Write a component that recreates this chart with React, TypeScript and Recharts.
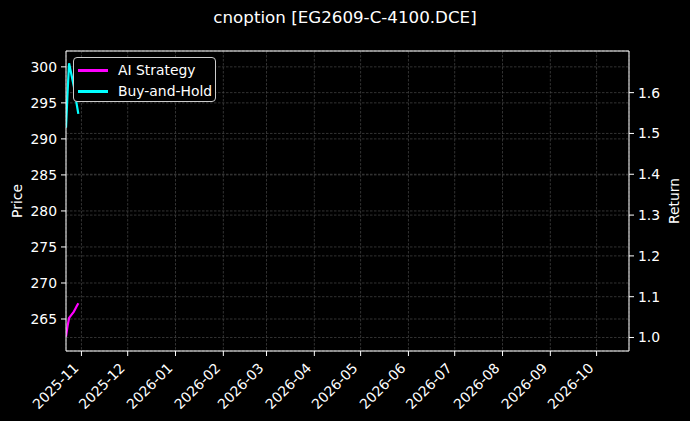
import { LineChart, Line, XAxis, YAxis, CartesianGrid, ReferenceLine } from 'recharts';

const dates = ['2025-10-22', '2025-10-23', '2025-10-24', '2025-10-27', '2025-10-28', '2025-10-29', '2025-10-30'];
const aiStrategy = [1.002, 1.028, 1.048, 1.063, 1.07, 1.077, 1.084];
const buyAndHold = [1.514, 1.6, 1.672, 1.617, 1.594, 1.57, 1.548];

const monthTicks = [
  '2025-11', '2025-12', '2026-01', '2026-02', '2026-03', '2026-04',
  '2026-05', '2026-06', '2026-07', '2026-08', '2026-09', '2026-10',
];
const priceTicks = [265, 270, 275, 280, 285, 290, 295, 300];
const returnTicks = [1.0, 1.1, 1.2, 1.3, 1.4, 1.5, 1.6];

const xStart = '2025-10-22';
const xEnd = '2026-10-22';
const priceDomain = [260.56, 302.2];
const returnDomain = [0.967, 1.702];

const data = dates.map((d, i) => ({
  t: Date.parse(d),
  ai: aiStrategy[i],
  bh: buyAndHold[i],
}));

const FONT = 'DejaVu Sans, sans-serif';
const AI_COLOR = '#ff00ff';
const BH_COLOR = '#00ffff';
const GRID = '#474747';

function XTick({ x, y, payload }: any) {
  const d = new Date(payload.value);
  const label = `${d.getUTCFullYear()}-${String(d.getUTCMonth() + 1).padStart(2, '0')}`;
  const px = x - 2;
  const py = y + 11;
  return (
    <text x={px} y={py} transform={`rotate(-45 ${px} ${py})`} textAnchor="end" fill="#fff" fontSize={13.9} fontFamily={FONT}>
      {label}
    </text>
  );
}

function AxisTitle({ viewBox, text, dx }: any) {
  const x = viewBox.x + dx;
  const y = viewBox.y + viewBox.height / 2;
  return (
    <text x={x} y={y} transform={`rotate(-90 ${x} ${y})`} textAnchor="middle" dominantBaseline="central" fill="#fff" fontSize={13.9} fontFamily={FONT}>
      {text}
    </text>
  );
}

function LegendBox() {
  const items = [
    { name: 'AI Strategy', color: AI_COLOR },
    { name: 'Buy-and-Hold', color: BH_COLOR },
  ];
  return (
    <div
      style={{
        position: 'absolute',
        left: 73,
        top: 57,
        width: 143,
        height: 45,
        boxSizing: 'border-box',
        background: '#000',
        border: '1px solid #cccccc',
        borderRadius: 4,
        padding: '2px 0 0 4px',
        fontFamily: FONT,
        fontSize: 13.9,
        color: '#fff',
        lineHeight: '21px',
      }}
    >
      {items.map((it) => (
        <div key={it.name} style={{ display: 'flex', alignItems: 'center' }}>
          <span style={{ display: 'inline-block', width: 30, height: 3, background: it.color, marginRight: 10 }} />
          <span>{it.name}</span>
        </div>
      ))}
    </div>
  );
}

export default function App() {
  return (
    <div style={{ position: 'absolute', left: 0, top: 0, width: 690, height: 421, background: '#000', fontFamily: FONT }}>
      <div
        style={{
          position: 'absolute',
          left: 0,
          top: 7,
          width: 690,
          textAlign: 'center',
          color: '#fff',
          fontSize: 16.7,
          lineHeight: '20px',
        }}
      >
        cnoption [EG2609-C-4100.DCE]
      </div>
      <LineChart width={690} height={421} data={data} margin={{ top: 51, right: 0, bottom: 0, left: 0 }}>
        <CartesianGrid yAxisId="price" stroke={GRID} strokeDasharray="2.5 1.5" strokeWidth={0.7} />
        <CartesianGrid yAxisId="ret" vertical={false} stroke={GRID} strokeDasharray="2.5 1.5" strokeWidth={0.7} />
        <XAxis
          dataKey="t"
          type="number"
          scale="time"
          domain={[Date.parse(xStart), Date.parse(xEnd)]}
          ticks={monthTicks.map((m) => Date.parse(m + '-01'))}
          allowDataOverflow
          height={70}
          stroke="#fff"
          tickSize={5}
          tick={<XTick />}
          interval={0}
        />
        <YAxis
          yAxisId="price"
          type="number"
          domain={priceDomain}
          ticks={priceTicks}
          allowDataOverflow
          width={66}
          stroke="#fff"
          tickSize={5}
          tickMargin={4}
          tick={{ fill: '#fff', fontSize: 13.9, fontFamily: FONT }}
          label={<AxisTitle text="Price" dx={17} />}
        />
        <YAxis
          yAxisId="ret"
          orientation="right"
          type="number"
          domain={returnDomain}
          ticks={returnTicks}
          allowDataOverflow
          width={61}
          stroke="#fff"
          tickSize={5}
          tickMargin={4}
          tickFormatter={(v: number) => v.toFixed(1)}
          tick={{ fill: '#fff', fontSize: 13.9, fontFamily: FONT }}
          label={<AxisTitle text="Return" dx={45} />}
        />
        <ReferenceLine yAxisId="price" y={priceDomain[1]} stroke="#fff" strokeWidth={1} ifOverflow="extendDomain" />
        <Line yAxisId="ret" type="linear" dataKey="ai" name="AI Strategy" stroke={AI_COLOR} strokeWidth={2.2} dot={false} isAnimationActive={false} />
        <Line yAxisId="ret" type="linear" dataKey="bh" name="Buy-and-Hold" stroke={BH_COLOR} strokeWidth={2.2} dot={false} isAnimationActive={false} />
      </LineChart>
      <LegendBox />
    </div>
  );
}
